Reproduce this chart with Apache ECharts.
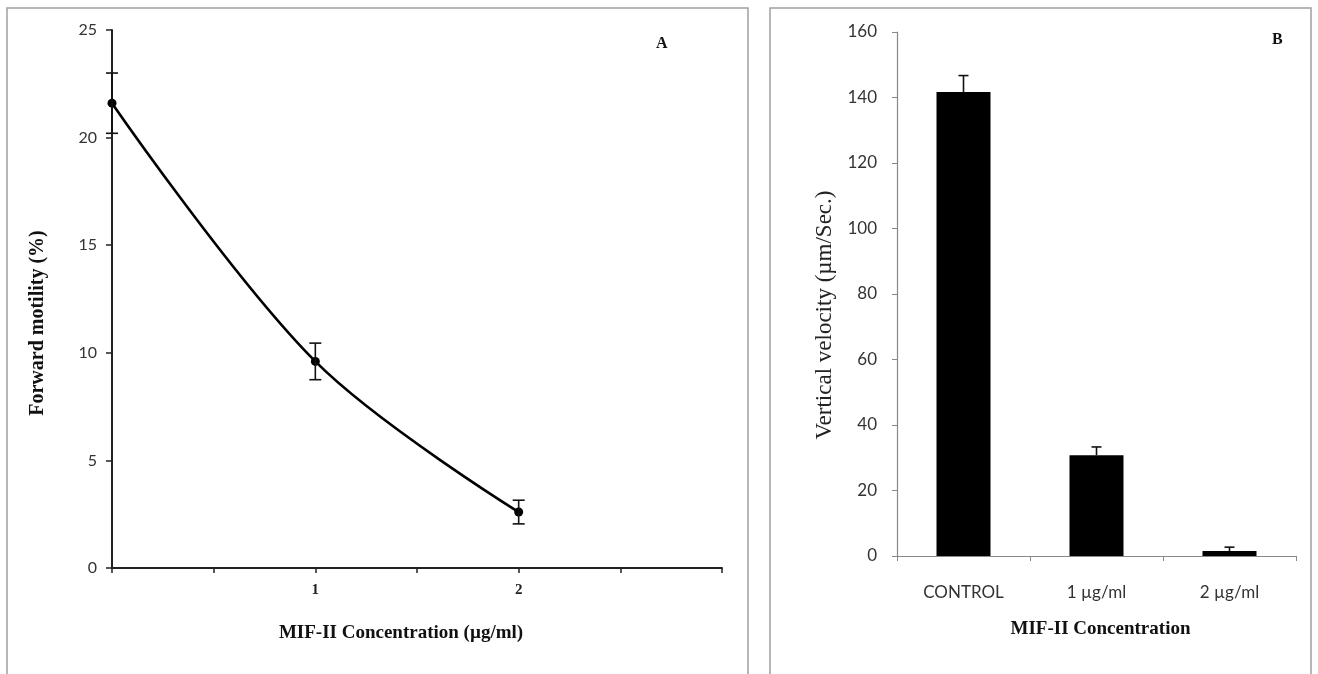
<!DOCTYPE html>
<html><head><meta charset="utf-8">
<script src="https://cdn.jsdelivr.net/npm/echarts@6/dist/echarts.min.js"></script>
<style>html,body{margin:0;padding:0;background:#fff}#c{width:1318px;height:674px}</style>
</head><body><div id="c"></div>
<script>
// Panel A data
const lineX = [0, 1, 2];
const lineY = [21.6, 9.6, 2.6];
const lineErr = [1.4, 0.85, 0.55];
const xTickLabels = ['1', '2'];
// Panel B data
const barCats = ['CONTROL', '1 µg/ml', '2 µg/ml'];
const barVals = [141.7, 30.8, 1.5];
const barErr = [5.0, 2.5, 1.2];

const serif = '"Liberation Serif", "DejaVu Serif", serif';
const sans = 'Lato, "Open Sans", sans-serif';

const chart = echarts.init(document.getElementById('c'));

function errBarsBoth(params, api) {
  const x = api.value(0), y = api.value(1), e = api.value(2);
  const top = api.coord([x, y + e]), bot = api.coord([x, y - e]);
  const w = 6;
  const st = {stroke: '#111', lineWidth: 1.6};
  return {type: 'group', children: [
    {type: 'line', shape: {x1: top[0], y1: top[1], x2: bot[0], y2: bot[1]}, style: st},
    {type: 'line', shape: {x1: top[0]-w, y1: top[1], x2: top[0]+w, y2: top[1]}, style: st},
    {type: 'line', shape: {x1: bot[0]-w, y1: bot[1], x2: bot[0]+w, y2: bot[1]}, style: st}
  ]};
}
function errBarsUp(params, api) {
  const c = api.value(0), y = api.value(1), e = api.value(2);
  const base = api.coord([c, y]), top = api.coord([c, y + e]);
  const w = 5;
  const st = {stroke: '#111', lineWidth: 1.6};
  return {type: 'group', children: [
    {type: 'line', shape: {x1: base[0], y1: base[1], x2: top[0], y2: top[1]}, style: st},
    {type: 'line', shape: {x1: top[0]-w, y1: top[1], x2: top[0]+w, y2: top[1]}, style: st}
  ]};
}

chart.setOption({
  animation: false,
  graphic: [
    {type: 'rect', shape: {x: 7, y: 8, width: 741, height: 720}, style: {fill: 'none', stroke: '#a0a0a0', lineWidth: 1.5}, z: -10},
    {type: 'rect', shape: {x: 770, y: 8, width: 541, height: 720}, style: {fill: 'none', stroke: '#a0a0a0', lineWidth: 1.5}, z: -10},
    {type: 'text', left: 656, top: 36, style: {text: 'A', font: 'bold 16px ' + serif, fill: '#111'}},
    {type: 'text', left: 1272, top: 32, style: {text: 'B', font: 'bold 16px ' + serif, fill: '#111'}}
  ],
  grid: [
    {left: 112, top: 30, width: 610, height: 538},
    {left: 897, top: 32, width: 399, height: 524}
  ],
  xAxis: [
    {type: 'value', gridIndex: 0, min: 0, max: 3, interval: 0.5,
     axisLine: {lineStyle: {color: '#222', width: 2}},
     axisTick: {show: true, length: 5, lineStyle: {color: '#222', width: 1.5}},
     splitLine: {show: false},
     axisLabel: {margin: 15, color: '#222', fontFamily: serif, fontWeight: 'bold', fontSize: 15,
       formatter: v => (xTickLabels.indexOf(String(v)) >= 0 ? String(v) : '')},
     name: 'MIF-II Concentration (µg/ml)', nameLocation: 'middle', nameGap: 56,
     nameTextStyle: {fontFamily: serif, fontWeight: 'bold', fontSize: 19, color: '#111', padding: [0, 0, 0, -32]}},
    {type: 'category', gridIndex: 1, data: barCats,
     axisLine: {lineStyle: {color: '#888', width: 1.2}},
     axisTick: {show: true, length: 5, lineStyle: {color: '#888'}},
     axisLabel: {margin: 28, color: '#333', fontFamily: sans, fontSize: 17},
     name: 'MIF-II Concentration', nameLocation: 'middle', nameGap: 64,
     nameTextStyle: {fontFamily: serif, fontWeight: 'bold', fontSize: 19, color: '#111', padding: [0, 0, 0, 8]}},
  ],
  yAxis: [
    {type: 'value', gridIndex: 0, min: 0, max: 25, interval: 5,
     axisLine: {show: true, lineStyle: {color: '#222', width: 2}},
     axisTick: {show: true, length: 6, lineStyle: {color: '#222', width: 1.5}},
     splitLine: {show: false},
     axisLabel: {margin: 15, color: '#333', fontFamily: sans, fontSize: 16},
     name: 'Forward motility (%)', nameLocation: 'middle', nameGap: 64,
     nameTextStyle: {fontFamily: serif, fontWeight: 'bold', fontSize: 20, color: '#111', padding: [0, 0, 0, -48]}},
    {type: 'value', gridIndex: 1, min: 0, max: 160, interval: 20,
     axisLine: {show: true, lineStyle: {color: '#888', width: 1.2}},
     axisTick: {show: true, length: 5, lineStyle: {color: '#888'}},
     splitLine: {show: false},
     axisLabel: {margin: 20, color: '#333', fontFamily: sans, fontSize: 17},
     name: 'Vertical velocity (µm/Sec.)', nameLocation: 'middle', nameGap: 61,
     nameTextStyle: {fontFamily: serif, fontSize: 23, color: '#222', padding: [0, 0, 0, -42]}}
  ],
  series: [
    {type: 'line', xAxisIndex: 0, yAxisIndex: 0, smooth: 0.35,
     data: lineX.map((x, i) => [x, lineY[i]]),
     lineStyle: {color: '#000', width: 2.6},
     symbol: 'circle', symbolSize: 9, itemStyle: {color: '#000'}, clip: false, z: 3},
    {type: 'custom', xAxisIndex: 0, yAxisIndex: 0, renderItem: errBarsBoth, clip: false,
     data: lineX.map((x, i) => [x, lineY[i], lineErr[i]]), z: 4},
    {type: 'bar', xAxisIndex: 1, yAxisIndex: 1, data: barVals, barWidth: 54,
     itemStyle: {color: '#000'}},
    {type: 'custom', xAxisIndex: 1, yAxisIndex: 1, renderItem: errBarsUp,
     data: barVals.map((v, i) => [i, v, barErr[i]]), z: 4}
  ]
});
</script></body></html>
